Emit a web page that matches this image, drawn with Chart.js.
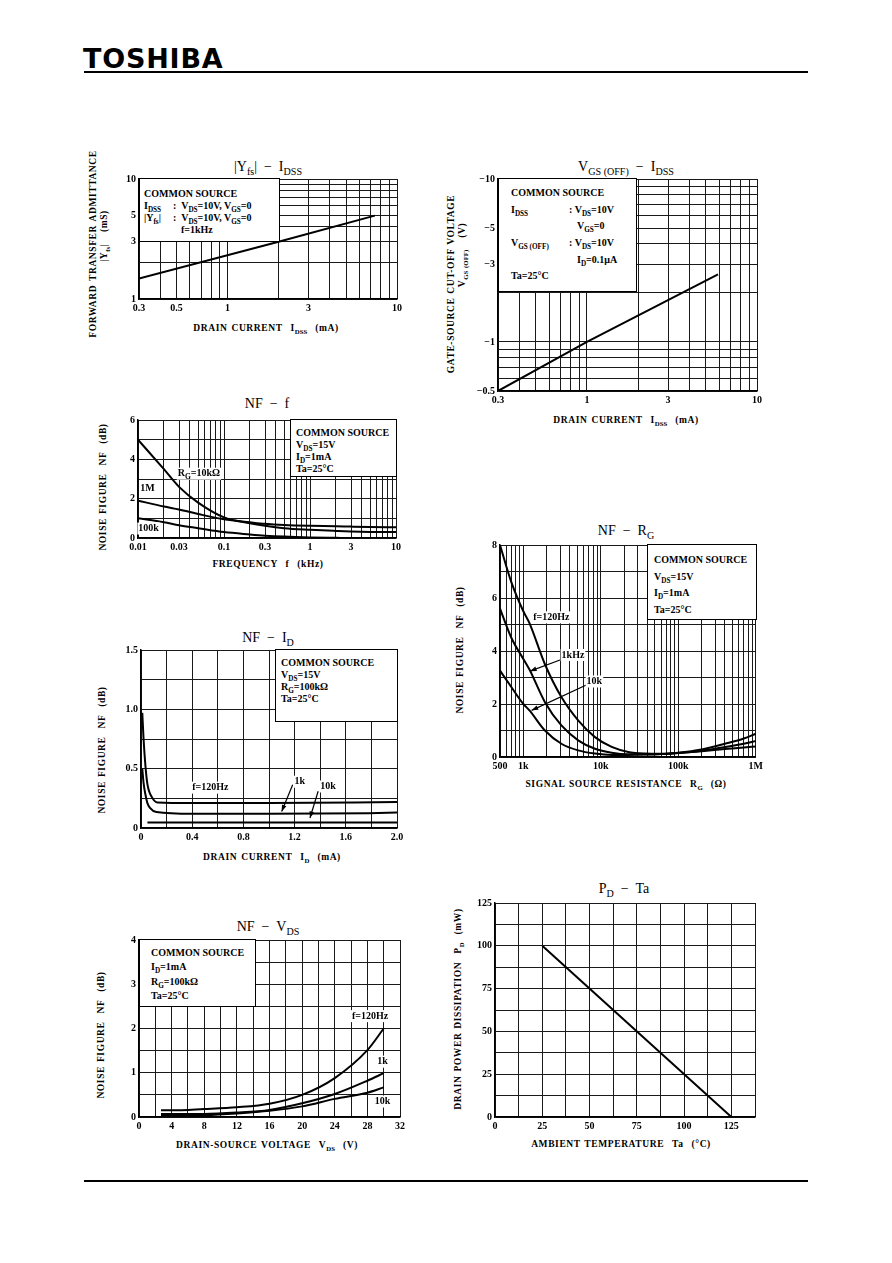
<html>
<head>
<script src="https://cdn.jsdelivr.net/npm/chart.js@4.4.0/dist/chart.umd.min.js"></script>
<style>
body { margin:0; width:892px; height:1263px; position:relative; background:#fff; color:#000; font-family:"Liberation Serif", serif; overflow:hidden; }
canvas { position:absolute; z-index:1; }
.t { position:absolute; white-space:nowrap; line-height:1; }
.ttl { font-size:14px; }
.axt { font-size:9.5px; font-weight:bold; letter-spacing:0.6px; word-spacing:1px; }
.box { position:absolute; z-index:2; background:#fff; border:1px solid #000; box-sizing:border-box; font-size:10px; font-weight:bold; white-space:nowrap; }
.box div { height:var(--lh); line-height:var(--lh); }
.c { display:inline-block; }
sub { font-size:72%; vertical-align:-0.35em; line-height:0; letter-spacing:0; }
.logo { position:absolute; left:83px; top:43px; font-family:"DejaVu Sans"; font-weight:bold; font-size:27px; letter-spacing:0.8px; }
.rule { position:absolute; left:84px; width:724px; background:#000; }
</style>
</head>
<body>
<div class="logo">TOSHIBA</div>
<div class="rule" style="top:71px;height:2px"></div>
<div class="rule" style="top:1180px;height:1.5px"></div>
<script>

// |Yfs| - IDSS
var yfsIdss = [0.3, 2, 7.4];
var yfsMs   = [1.48, 3.0, 4.95];

// VGS(OFF) - IDSS  (magnitude of the negative voltage)
var vgsIdss = [0.3, 1, 5.9];
var vgsOffV = [0.5, 1.0, 2.6];

// NF - f
var nfFreq   = [0.01, 0.02, 0.03, 0.05, 0.1, 0.2, 0.3, 0.5, 1, 2, 3, 5, 10];
var nfF10k   = [5.0, 3.5, 2.6, 1.8, 1.05, 0.75, 0.62, 0.5, 0.42, 0.36, 0.33, 0.31, 0.3];
var nfF1M    = [1.9, 1.6, 1.45, 1.22, 0.95, 0.8, 0.72, 0.66, 0.62, 0.6, 0.58, 0.56, 0.55];
var nfF100k  = [1.0, 0.8, 0.65, 0.5, 0.3, 0.18, 0.12, 0.07, 0.03, 0.01, 0, 0, 0];

// NF - RG
var rgOhm   = [500, 700, 1000, 1200, 1900, 3100, 5100, 8400, 13800, 22600, 37000, 60000, 100000, 200000, 400000, 700000, 1000000];
var nfR120  = [8.0, 6.6, 5.5, 5.05, 3.5, 2.26, 1.38, 0.75, 0.38, 0.19, 0.13, 0.12, 0.16, 0.28, 0.5, 0.7, 0.88];
var nfR1k   = [5.6, 4.5, 3.7, 3.3, 2.07, 1.19, 0.63, 0.31, 0.16, 0.1, 0.1, 0.11, 0.15, 0.24, 0.38, 0.5, 0.6];
var nfR10k  = [3.26, 2.64, 2.0, 1.76, 1.0, 0.5, 0.25, 0.13, 0.08, 0.08, 0.09, 0.11, 0.15, 0.22, 0.3, 0.36, 0.4];

// NF - ID
var id120   = [0.01, 0.02, 0.035, 0.05, 0.085, 0.13, 0.4, 1.0, 2.0];
var nfI120  = [0.97, 0.75, 0.52, 0.37, 0.26, 0.215, 0.21, 0.21, 0.22];
var id1k    = [0.01, 0.02, 0.035, 0.05, 0.07, 0.12, 0.4, 1.0, 1.78, 2.0];
var nfI1k   = [0.5, 0.38, 0.28, 0.21, 0.17, 0.135, 0.12, 0.12, 0.125, 0.13];
var id10k   = [0.05, 1.0, 2.0];
var nfI10k  = [0.047, 0.047, 0.047];

// NF - VDS
var vds     = [2.7, 4, 8, 12, 16, 20, 24, 28, 30];
var nfV120  = [0.15, 0.15, 0.18, 0.22, 0.3, 0.5, 0.88, 1.51, 2.0];
var nfV1k   = [0.07, 0.07, 0.07, 0.1, 0.16, 0.31, 0.52, 0.82, 0.99];
var nfV10k  = [0.03, 0.03, 0.04, 0.08, 0.14, 0.24, 0.41, 0.55, 0.67];

// PD - Ta
var taC     = [25, 125];
var pdMw    = [100, 0];

// tick labels
var lblIdss  = [0.3, 0.5, 1, 3, 10];
var lblIdss2 = [0.3, 1, 3, 10];
var lblYfs   = [1, 3, 5, 10];
var lblVgs   = [0.5, 1, 3, 5, 10];
var lblFreq  = [0.01, 0.03, 0.1, 0.3, 1, 3, 10];
var lblRg    = [500, 1000, 10000, 100000, 1000000];
var rgNames  = {500:'500', 1000:'1k', 10000:'10k', 100000:'100k', 1000000:'1M'};
var gridId   = [0, 0.2, 0.4, 0.6, 0.8, 1.0, 1.2, 1.4, 1.6, 1.8, 2.0];
var lblId    = [0, 0.4, 0.8, 1.2, 1.6, 2.0];
var gridNfId = [0, 0.25, 0.5, 0.75, 1.0, 1.25, 1.5];
var lblNfId  = [0, 0.5, 1.0, 1.5];
var gridVds  = [0, 2, 4, 6, 8, 10, 12, 14, 16, 18, 20, 22, 24, 26, 28, 30, 32];
var lblVds   = [0, 4, 8, 12, 16, 20, 24, 28, 32];
var gridNfV  = [0, 0.5, 1, 1.5, 2, 2.5, 3, 3.5, 4];
var lblNfV   = [0, 1, 2, 3, 4];
var grid0to6 = [0, 1, 2, 3, 4, 5, 6];
var lbl0to6  = [0, 2, 4, 6];
var grid0to8 = [0, 1, 2, 3, 4, 5, 6, 7, 8];
var lbl0to8  = [0, 2, 4, 6, 8];
var gridTa   = [0, 12.5, 25, 37.5, 50, 62.5, 75, 87.5, 100, 112.5, 125, 137.5];
var lblTa    = [0, 25, 50, 75, 100, 125];
var gridPd   = [0, 12.5, 25, 37.5, 50, 62.5, 75, 87.5, 100, 112.5, 125];
var lblPd    = [0, 25, 50, 75, 100, 125];

var PADL = 36, PADT = 8, PADR = 10, PADB = 18;
var FONT = '"Liberation Serif", serif';

function logGrid(lo, hi) {
  var out = [];
  for (var d = Math.pow(10, Math.floor(Math.log10(lo))); d < hi; d *= 10) {
    for (var k = 1; k <= 9; k++) {
      var v = +(k * d).toPrecision(6);
      if (v >= lo && v <= hi) out.push(v);
    }
  }
  if (out[out.length-1] !== hi) out.push(hi);
  return out;
}

function pts(xs, ys) { return xs.map((x, i) => ({x: x, y: ys[i]})); }

function axis(type, min, max, grid, labels, fmt, pos) {
  return {
    type: type, min: min, max: max, position: pos,
    afterBuildTicks: s => { s.ticks = grid.map(v => ({value: v})); },
    afterFit: s => { if (pos === 'left') s.width = PADL; else s.height = PADB; },
    grid: { color: '#1a1a1a', lineWidth: 1, drawTicks: false },
    border: { color: '#000', width: 1.5 },
    ticks: {
      autoSkip: false, maxRotation: 0, minRotation: 0, padding: 3, color: '#000',
      font: { family: FONT, size: 10, weight: 'bold' },
      callback: v => labels.indexOf(v) >= 0 ? fmt(v) : ''
    }
  };
}

// text with _{sub} parts, drawn on the canvas
function rich(ctx, s, x, y, size, draw) {
  var parts = s.split(/(_\{[^}]*\})/), cx = x;
  parts.forEach(p => {
    if (!p) return;
    var sub = p.indexOf('_{') === 0, t = sub ? p.slice(2, -1) : p;
    ctx.font = 'bold ' + (sub ? size * 0.75 : size) + 'px ' + FONT;
    if (draw) ctx.fillText(t, cx, y + (sub ? size * 0.3 : 0));
    cx += ctx.measureText(t).width;
  });
  return cx - x;
}

var notesPlugin = {
  id: 'notes',
  afterDatasetsDraw(chart, args, opts) {
    var ctx = chart.ctx, sx = chart.scales.x, sy = chart.scales.y;
    ctx.save();
    ctx.fillStyle = '#000'; ctx.strokeStyle = '#000'; ctx.textBaseline = 'middle';
    (opts.arrows || []).forEach(a => {
      var x1 = sx.getPixelForValue(a.x1), y1 = sy.getPixelForValue(a.y1);
      var x2 = sx.getPixelForValue(a.x2), y2 = sy.getPixelForValue(a.y2);
      var ang = Math.atan2(y2 - y1, x2 - x1);
      ctx.lineWidth = 1.2;
      ctx.beginPath(); ctx.moveTo(x1, y1); ctx.lineTo(x2, y2); ctx.stroke();
      ctx.beginPath();
      ctx.moveTo(x2, y2);
      ctx.lineTo(x2 - 7 * Math.cos(ang - 0.35), y2 - 7 * Math.sin(ang - 0.35));
      ctx.lineTo(x2 - 7 * Math.cos(ang + 0.35), y2 - 7 * Math.sin(ang + 0.35));
      ctx.closePath(); ctx.fill();
    });
    (opts.labels || []).forEach(l => {
      var x = sx.getPixelForValue(l.x), y = sy.getPixelForValue(l.y);
      var w = rich(ctx, l.t, x, y, 10, false);
      if (l.bg) { ctx.fillStyle = '#fff'; ctx.fillRect(x - 1, y - 6, w + 2, 12); ctx.fillStyle = '#000'; }
      rich(ctx, l.t, x, y, 10, true);
    });
    ctx.restore();
  }
};

function line(data, smooth, w) {
  return {
    data: data, borderColor: '#000', borderWidth: w || 2, pointRadius: 0, fill: false,
    tension: smooth ? 0.4 : 0, cubicInterpolationMode: smooth ? 'monotone' : 'default'
  };
}

function makeChart(rect, xAx, yAx, datasets, notes) {
  var cv = document.createElement('canvas');
  cv.width = rect[2] + PADL + PADR;
  cv.height = rect[3] + PADT + PADB;
  cv.style.left = (rect[0] - PADL) + 'px';
  cv.style.top = (rect[1] - PADT) + 'px';
  document.body.appendChild(cv);
  new Chart(cv.getContext('2d'), {
    type: 'line',
    data: { datasets: datasets },
    options: {
      responsive: false, animation: false, devicePixelRatio: 1,
      parsing: false, normalized: true,
      layout: { padding: { top: PADT, right: PADR, left: 0, bottom: 0 } },
      plugins: { legend: { display: false }, tooltip: { enabled: false }, notes: notes || {} },
      scales: { x: xAx, y: yAx }
    },
    plugins: [notesPlugin]
  });
}

function put(html, cx, cy, cls, rot) {
  var d = document.createElement('div');
  d.className = 't ' + cls;
  d.innerHTML = html;
  d.style.left = cx + 'px'; d.style.top = cy + 'px';
  d.style.transform = 'translate(-50%,-50%)' + (rot ? ' rotate(-90deg)' : '');
  document.body.appendChild(d);
}

function box(l, t, w, h, padL, padT, lh, rows) {
  var d = document.createElement('div');
  d.className = 'box';
  d.style.cssText = 'left:' + l + 'px;top:' + t + 'px;width:' + w + 'px;height:' + h + 'px;padding:' + padT + 'px 0 0 ' + padL + 'px;--lh:' + lh + 'px';
  d.innerHTML = rows.map(r => '<div>' + r + '</div>').join('');
  document.body.appendChild(d);
}

var strFmt = v => String(v);
var oneDec = v => v === 0 ? '0' : v.toFixed(1);

// 1. |Yfs| - IDSS
makeChart([139, 178, 258, 121],
  axis('logarithmic', 0.3, 10, logGrid(0.3, 10), lblIdss, strFmt, 'bottom'),
  axis('logarithmic', 1, 10, logGrid(1, 10), lblYfs, strFmt, 'left'),
  [line(pts(yfsIdss, yfsMs), false)]);

// 2. VGS(OFF) - IDSS
makeChart([498, 178, 259, 213],
  axis('logarithmic', 0.3, 10, logGrid(0.3, 10), lblIdss2, strFmt, 'bottom'),
  axis('logarithmic', 0.5, 10, logGrid(0.5, 10), lblVgs, v => '\u2212' + v, 'left'),
  [line(pts(vgsIdss, vgsOffV), false)]);

// 3. NF - f
makeChart([138, 419, 258, 119],
  axis('logarithmic', 0.01, 10, logGrid(0.01, 10), lblFreq, strFmt, 'bottom'),
  axis('linear', 0, 6, grid0to6, lbl0to6, strFmt, 'left'),
  [line(pts(nfFreq, nfF10k), true), line(pts(nfFreq, nfF1M), true), line(pts(nfFreq, nfF100k), true)],
  { labels: [
      { x: 0.029, y: 3.27, t: 'R_{G}=10k\u03a9', bg: true },
      { x: 0.0106, y: 2.53, t: '1M', bg: true },
      { x: 0.0101, y: 0.48, t: '100k', bg: true } ] });

// 4. NF - RG
makeChart([500, 544, 256, 213],
  axis('logarithmic', 500, 1000000, logGrid(500, 1000000), lblRg, v => rgNames[v], 'bottom'),
  axis('linear', 0, 8, grid0to8, lbl0to8, strFmt, 'left'),
  [line(pts(rgOhm, nfR120), true), line(pts(rgOhm, nfR1k), true), line(pts(rgOhm, nfR10k), true)],
  { labels: [
      { x: 1340, y: 5.27, t: 'f=120Hz', bg: true },
      { x: 3120, y: 3.85, t: '1kHz', bg: true },
      { x: 6560, y: 2.85, t: '10k', bg: true } ],
    arrows: [
      { x1: 3100, y1: 3.68, x2: 1220, y2: 3.24 },
      { x1: 6500, y1: 2.72, x2: 1280, y2: 1.76 } ] });

// 5. NF - ID
makeChart([141, 649, 256, 179],
  axis('linear', 0, 2.0, gridId, lblId, oneDec, 'bottom'),
  axis('linear', 0, 1.5, gridNfId, lblNfId, oneDec, 'left'),
  [line(pts(id120, nfI120), true), line(pts(id1k, nfI1k), true), line(pts(id10k, nfI10k), false)],
  { labels: [
      { x: 0.4, y: 0.34, t: 'f=120Hz', bg: true },
      { x: 1.2, y: 0.39, t: '1k', bg: true },
      { x: 1.40, y: 0.35, t: '10k', bg: true } ],
    arrows: [
      { x1: 1.185, y1: 0.365, x2: 1.099, y2: 0.139 },
      { x1: 1.384, y1: 0.31, x2: 1.32, y2: 0.084 } ] });

// 6. NF - VDS
makeChart([139, 939, 261, 178],
  axis('linear', 0, 32, gridVds, lblVds, strFmt, 'bottom'),
  axis('linear', 0, 4, gridNfV, lblNfV, strFmt, 'left'),
  [line(pts(vds, nfV120), true), line(pts(vds, nfV1k), true), line(pts(vds, nfV10k), true)],
  { labels: [
      { x: 26.1, y: 2.28, t: 'f=120Hz', bg: true },
      { x: 29.2, y: 1.25, t: '1k', bg: true },
      { x: 28.9, y: 0.35, t: '10k', bg: true } ] });

// 7. PD - Ta
makeChart([495, 902, 260, 215],
  axis('linear', 0, 137.5, gridTa, lblTa, strFmt, 'bottom'),
  axis('linear', 0, 125, gridPd, lblPd, strFmt, 'left'),
  [line(pts(taC, pdMw), false)]);

// titles
put('|Y<sub>fs</sub>| &nbsp;\u2212&nbsp; I<sub>DSS</sub>', 268, 167, 'ttl');
put('V<sub>GS (OFF)</sub> &nbsp;\u2212&nbsp; I<sub>DSS</sub>', 626, 167, 'ttl');
put('NF &nbsp;\u2212&nbsp; f', 267, 404, 'ttl');
put('NF &nbsp;\u2212&nbsp; R<sub>G</sub>', 626, 531, 'ttl');
put('NF &nbsp;\u2212&nbsp; I<sub>D</sub>', 268, 638, 'ttl');
put('NF &nbsp;\u2212&nbsp; V<sub>DS</sub>', 268, 927, 'ttl');
put('P<sub>D</sub> &nbsp;\u2212&nbsp; Ta', 624, 889, 'ttl');

// x axis titles
put('DRAIN CURRENT &nbsp;I<sub>DSS</sub>&nbsp; (mA)', 266, 329, 'axt');
put('DRAIN CURRENT &nbsp;I<sub>DSS</sub>&nbsp; (mA)', 626, 421, 'axt');
put('FREQUENCY &nbsp;f&nbsp; (kHz)', 268, 565, 'axt');
put('SIGNAL SOURCE RESISTANCE &nbsp;R<sub>G</sub>&nbsp; (\u03a9)', 626, 785, 'axt');
put('DRAIN CURRENT &nbsp;I<sub>D</sub>&nbsp; (mA)', 272, 858, 'axt');
put('DRAIN-SOURCE VOLTAGE &nbsp;V<sub>DS</sub>&nbsp; (V)', 267, 1146, 'axt');
put('AMBIENT TEMPERATURE &nbsp;Ta&nbsp; (\u00b0C)', 621, 1145, 'axt');

// y axis titles
put('FORWARD TRANSFER ADMITTANCE', 94, 244, 'axt', true);
put('|Y<sub>fs</sub>| &nbsp; (mS)', 105, 236, 'axt', true);
put('GATE-SOURCE CUT-OFF VOLTAGE', 452, 284, 'axt', true);
put('V<sub>GS (OFF)</sub> &nbsp; (V)', 463, 255, 'axt', true);
put('NOISE FIGURE &nbsp;NF&nbsp; (dB)', 104, 487, 'axt', true);
put('NOISE FIGURE &nbsp;NF&nbsp; (dB)', 461, 650, 'axt', true);
put('NOISE FIGURE &nbsp;NF&nbsp; (dB)', 103, 750, 'axt', true);
put('NOISE FIGURE &nbsp;NF&nbsp; (dB)', 102, 1035, 'axt', true);
put('DRAIN POWER DISSIPATION &nbsp;P<sub>D</sub>&nbsp; (mW)', 459, 1009, 'axt', true);

// condition boxes
box(139, 178, 141, 64, 4, 9, 12, [
  'COMMON SOURCE',
  '<span class="c" style="width:29px">I<sub>DSS</sub></span>:&nbsp; V<sub>DS</sub>=10V, V<sub>GS</sub>=0',
  '<span class="c" style="width:29px">|Y<sub>fs</sub>|</span>:&nbsp; V<sub>DS</sub>=10V, V<sub>GS</sub>=0',
  '<span class="c" style="width:37px"></span>f=1kHz']);
box(498, 178, 139, 114, 12, 6, 16.7, [
  'COMMON SOURCE',
  '<span class="c" style="width:58px">I<sub>DSS</sub></span>: V<sub>DS</sub>=10V',
  '<span class="c" style="width:66px"></span>V<sub>GS</sub>=0',
  '<span class="c" style="width:58px">V<sub>GS (OFF)</sub></span>: V<sub>DS</sub>=10V',
  '<span class="c" style="width:66px"></span>I<sub>D</sub>=0.1\u03bcA',
  'Ta=25\u00b0C']);
box(290, 419, 107, 58, 5, 7, 11.9, [
  'COMMON SOURCE', 'V<sub>DS</sub>=15V', 'I<sub>D</sub>=1mA', 'Ta=25\u00b0C']);
box(647, 544, 110, 76, 6, 7, 16.7, [
  'COMMON SOURCE', 'V<sub>DS</sub>=15V', 'I<sub>D</sub>=1mA', 'Ta=25\u00b0C']);
box(275, 649, 123, 73, 5, 7, 12, [
  'COMMON SOURCE', 'V<sub>DS</sub>=15V', 'R<sub>G</sub>=100k\u03a9', 'Ta=25\u00b0C']);
box(139, 939, 117, 68, 11, 6, 14.3, [
  'COMMON SOURCE', 'I<sub>D</sub>=1mA', 'R<sub>G</sub>=100k\u03a9', 'Ta=25\u00b0C']);
</script>
</body>
</html>
